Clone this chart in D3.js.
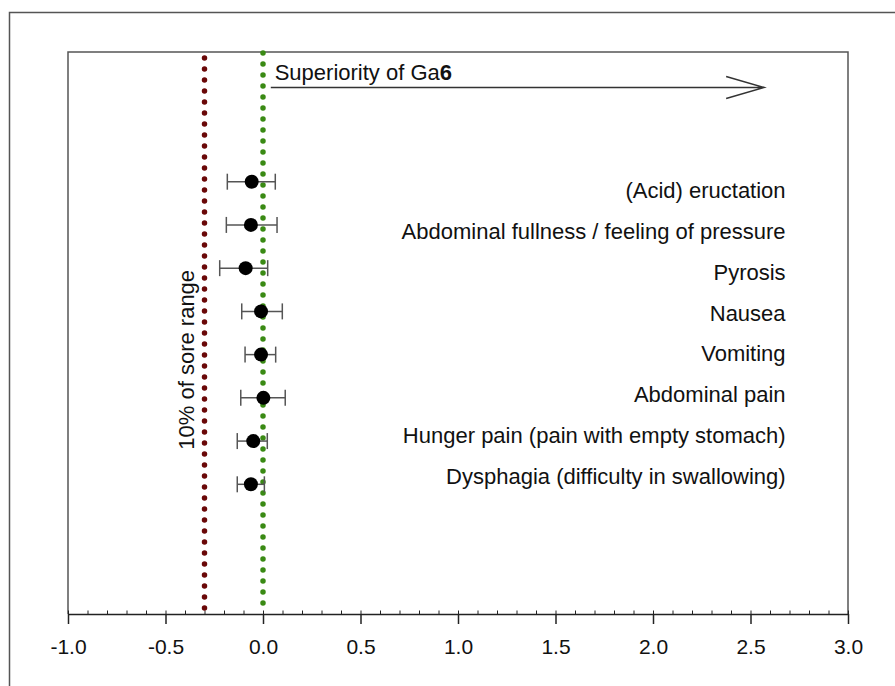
<!DOCTYPE html>
<meta charset="utf-8">
<style>

body {
  margin: 0;
  background: #fff;
  font-family: "Liberation Sans", Arial, sans-serif;
}

text {
  fill: #111;
}

.frame {
  fill: none;
  stroke: #555;
  stroke-width: 1.5px;
}

.axis path,
.axis line {
  stroke: #222;
}

.err {
  stroke: #555;
  stroke-width: 1.5px;
}

</style>
<body>
<script src="https://d3js.org/d3.v7.min.js"></script>
<script>

// symptoms, top to bottom
var symptoms = [
  "(Acid) eructation",
  "Abdominal fullness / feeling of pressure",
  "Pyrosis",
  "Nausea",
  "Vomiting",
  "Abdominal pain",
  "Hunger pain (pain with empty stomach)",
  "Dysphagia (difficulty in swallowing)"
];

// point estimates with lower / upper confidence limits
var estimate = [-0.058, -0.062, -0.089, -0.010, -0.010, 0.002, -0.050, -0.062];
var lower    = [-0.183, -0.188, -0.222, -0.109, -0.092, -0.114, -0.132, -0.132];
var upper    = [ 0.063,  0.072,  0.024,  0.099,  0.065,  0.114,  0.022,  0.007];

var xTicks = [-1.0, -0.5, 0.0, 0.5, 1.0, 1.5, 2.0, 2.5, 3.0];
var threshold = -0.3;   // 10% of score range
var arrowEnd = 2.57;

var width = 895,
    height = 686;

var margin = {top: 52, right: 47, bottom: 72, left: 68};

var x = d3.scaleLinear()
    .domain([-1, 3])
    .range([margin.left, width - margin.right]);

var y = d3.scaleLinear()
    .domain([0, 13])
    .range([margin.top, height - margin.bottom]);

// the labels sit on their own, slightly tighter grid
var yLabel = d3.scalePoint()
    .domain(symptoms)
    .range([198, 484]);

var svg = d3.select("body").append("svg")
    .attr("width", width)
    .attr("height", height);

// outer frame (top and left edges only visible)
svg.append("path")
    .attr("class", "frame")
    .attr("d", "M9.5," + height + "V12.5H" + width);

// plot frame
svg.append("path")
    .attr("class", "frame")
    .attr("d", "M" + x(-1) + "," + y(13) + "V" + y(0) + "H" + x(3) + "V" + y(13));

// minor ticks
svg.append("g")
    .attr("class", "axis")
    .attr("transform", "translate(0," + y(13) + ")")
    .call(d3.axisTop(x).ticks(40).tickSize(3.5).tickFormat(""))
    .call(function(g) { g.select(".domain").remove(); });

// major ticks
svg.append("g")
    .attr("class", "axis")
    .attr("transform", "translate(0," + y(13) + ")")
    .call(d3.axisBottom(x).tickValues(xTicks).tickSize(10).tickSizeOuter(0).tickPadding(15)
      .tickFormat(function(d) { return d3.format(".1f")(d).replace("\u2212", "-"); }))
    .call(function(g) {
      g.select(".domain").attr("stroke-width", 1.5);
      g.selectAll(".tick line").attr("stroke-width", 1.5);
      g.selectAll("text").attr("font-size", 21).attr("font-family", "Liberation Sans, Arial, sans-serif").attr("fill", "#111");
    });

// reference lines
svg.append("line")
    .attr("x1", x(threshold)).attr("x2", x(threshold))
    .attr("y1", y(0) + 6).attr("y2", y(13))
    .attr("stroke", "#6a0808")
    .attr("stroke-width", 5.5)
    .attr("stroke-linecap", "round")
    .attr("stroke-dasharray", "0,11");

svg.append("line")
    .attr("x1", x(0)).attr("x2", x(0))
    .attr("y1", y(0) + 1).attr("y2", y(13))
    .attr("stroke", "#3a8a14")
    .attr("stroke-width", 5.5)
    .attr("stroke-linecap", "round")
    .attr("stroke-dasharray", "0,11");

svg.append("text")
    .attr("transform", "translate(" + (x(threshold) - 11) + "," + y(7.12) + ")rotate(-90)")
    .attr("text-anchor", "middle")
    .attr("font-size", 22)
    .text("10% of sore range");

// superiority arrow
var ay = y(0.82);
svg.append("path")
    .attr("d", "M" + x(0.04) + "," + ay + "H" + x(arrowEnd) +
               "M" + (x(arrowEnd) - 38) + "," + (ay - 11) + "L" + x(arrowEnd) + "," + ay +
               "L" + (x(arrowEnd) - 38) + "," + (ay + 11))
    .attr("fill", "none")
    .attr("stroke", "#333")
    .attr("stroke-width", 1.5);

var sup = svg.append("text")
    .attr("x", x(0.06))
    .attr("y", ay - 7)
    .attr("font-size", 22);
sup.append("tspan").text("Superiority of Ga");
sup.append("tspan").attr("font-weight", "bold").text("6");

// error bars and points
var rows = svg.append("g").selectAll("g")
    .data(symptoms)
  .join("g")
    .attr("transform", function(d, i) { return "translate(0," + y(i + 3) + ")"; });

rows.append("line")
    .attr("class", "err")
    .attr("x1", function(d, i) { return x(lower[i]); })
    .attr("x2", function(d, i) { return x(upper[i]); });

rows.append("line")
    .attr("class", "err")
    .attr("x1", function(d, i) { return x(lower[i]); })
    .attr("x2", function(d, i) { return x(lower[i]); })
    .attr("y1", -8).attr("y2", 8);

rows.append("line")
    .attr("class", "err")
    .attr("x1", function(d, i) { return x(upper[i]); })
    .attr("x2", function(d, i) { return x(upper[i]); })
    .attr("y1", -8).attr("y2", 8);

rows.append("circle")
    .attr("cx", function(d, i) { return x(estimate[i]); })
    .attr("r", 7)
    .attr("fill", "#000");

svg.append("g").selectAll("text")
    .data(symptoms)
  .join("text")
    .attr("x", x(2.68))
    .attr("y", function(d) { return yLabel(d); })
    .attr("text-anchor", "end")
    .attr("font-size", 22)
    .text(function(d) { return d; });

</script>
</body>
